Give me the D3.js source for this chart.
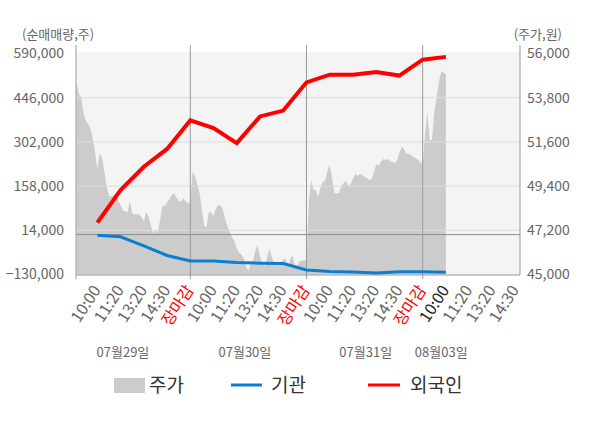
<!DOCTYPE html>
<html>
<head>
<meta charset="utf-8">
<script src="https://cdn.jsdelivr.net/npm/d3@7"></script>
<style>
  body { margin: 0; background: #fff; }
  text { font-family: "Noto Sans CJK KR", "Noto Sans", sans-serif; }
</style>
</head>
<body>
<div id="chart"></div>
<script>
// chart data
const days = ["07월29일", "07월30일", "07월31일", "08월03일"];
const tickLabels = ["10:00", "11:20", "13:20", "14:30", "장마감"];
const leftTicks = [-130000, 14000, 158000, 302000, 446000, 590000];
const rightTicks = [45000, 47200, 49400, 51600, 53800, 56000];

// net buying at each labelled time (shares)
const foreign = [39000, 145000, 221000, 279000, 372000, 347000, 298000, 385000, 404000,
  496000, 521000, 521000, 530000, 518000, 570000, 579000];
const institution = [-2000, -7000, -37000, -68000, -86000, -86000, -91000, -93000, -94000,
  -115000, -120000, -122000, -125000, -121000, -121000, -123000];

// intraday price, one value per 1/10 of a label step
const price0729 = [54600, 54000, 53850, 53050, 52650, 52500, 52250, 51800, 51100, 50200,
  51050, 50800, 50150, 49350, 48900, 48900, 48950, 49050, 48650, 48450,
  48200, 48150, 48100, 48650, 48050, 48000, 48000, 48000, 47850, 47650,
  48100, 47900, 47450, 47050, 47200, 47100, 47700, 48450, 48400, 48600,
  48750, 48950, 49050, 48850, 48650, 48650, 48800, 48650, 48550, 48600];
const price0730 = [50150, 49900, 49500, 49050, 48200, 47400, 47350, 48100, 48100, 47900,
  48300, 48450, 48450, 48250, 47750, 47400, 47100, 46850, 46650, 46300,
  46100, 46000, 45800, 45400, 45200, 45550, 45700, 46200, 46450, 45900,
  45600, 45400, 45800, 46300, 45900, 45550, 45450, 45550, 45600, 45750,
  45800, 45450, 45750, 45950, 45450, 45450, 45650, 45700, 45700, 45700];
const price0731 = [48550, 49700, 49200, 49200, 48850, 49300, 49600, 49650, 50150, 50450,
  49800, 49050, 49050, 49050, 49400, 49550, 49650, 49400, 49500, 49750,
  50000, 49900, 50000, 49950, 49850, 49800, 49700, 49750, 50050, 50500,
  50400, 50600, 50750, 50700, 50750, 50650, 50600, 50550, 50700, 51050,
  51350, 51250, 51000, 51000, 50950, 50850, 50800, 50700, 50600, 50450];
const price0803 = [51900, 53100, 51700, 51700, 53100, 53800, 54600, 55100, 55050, 54950];
const prices = [price0729, price0730, price0731, price0803];

const width = 600;
const height = 428;
const mLeft = 76, mRight = 520, mTop = 52, mBottom = 275;

const svg = d3.select("#chart").append("svg")
    .attr("width", width)
    .attr("height", height);

// x is measured in label steps: day d, label j sits at 5*d + j
const x = d3.scaleLinear().domain([0.08, 19.19]).range([mLeft, mRight]);
const yL = d3.scaleLinear().domain([-130000, 590000]).range([274.5, 53.5]);
const yR = d3.scaleLinear().domain([45000, 56000]).range([274.5, 53.5]);

svg.append("defs").append("clipPath").attr("id", "plot")
  .append("rect").attr("x", mLeft).attr("y", mTop).attr("width", mRight - mLeft).attr("height", mBottom - mTop);

svg.append("rect")
    .attr("x", mLeft).attr("y", mTop)
    .attr("width", mRight - mLeft).attr("height", mBottom - mTop)
    .attr("fill", "#f4f4f4");

// price area
const pricePts = [];
prices.forEach((arr, d) => arr.forEach((v, k) => pricePts.push({ pos: 5 * d + 0.1 * (k + 1), v })));
const area = d3.area()
    .x(p => x(p.pos))
    .y0(yR(45000))
    .y1(p => yR(p.v));
svg.append("path")
    .datum(pricePts)
    .attr("clip-path", "url(#plot)")
    .attr("fill", "#cccccc")
    .attr("d", area);

// grid
svg.append("g")
  .selectAll("line")
  .data(leftTicks.slice(1, -1))
  .join("line")
    .attr("x1", mLeft).attr("x2", mRight)
    .attr("y1", d => yL(d)).attr("y2", d => yL(d))
    .attr("stroke", "#dcdcdc");

svg.append("line")
    .attr("x1", mLeft).attr("x2", mRight)
    .attr("y1", yL(0)).attr("y2", yL(0))
    .attr("stroke", "#8c8c8c");

// day separators
svg.append("g")
  .selectAll("line")
  .data([5, 10, 15])
  .join("line")
    .attr("x1", d => x(d)).attr("x2", d => x(d))
    .attr("y1", 45).attr("y2", mBottom)
    .attr("stroke", "#999");

// axes frame
svg.append("line").attr("x1", mLeft).attr("x2", mLeft).attr("y1", 45).attr("y2", mBottom + 4).attr("stroke", "#999");
svg.append("line").attr("x1", mRight).attr("x2", mRight).attr("y1", 45).attr("y2", mBottom).attr("stroke", "#999");
svg.append("line").attr("x1", mLeft).attr("x2", mRight).attr("y1", mBottom).attr("y2", mBottom).attr("stroke", "#999");
svg.append("g")
  .selectAll("line")
  .data([5, 10, 15])
  .join("line")
    .attr("x1", d => x(d)).attr("x2", d => x(d))
    .attr("y1", mBottom).attr("y2", mBottom + 4)
    .attr("stroke", "#999");

// lines
const posOf = i => i + 1;
const line = d3.line().x((v, i) => x(posOf(i))).y(v => yL(v));
svg.append("path")
    .datum(institution)
    .attr("fill", "none")
    .attr("stroke", "#0b7fcf")
    .attr("stroke-width", 3)
    .attr("d", line);
svg.append("path")
    .datum(foreign)
    .attr("fill", "none")
    .attr("stroke", "#ff0000")
    .attr("stroke-width", 4)
    .attr("d", line);

// y labels
svg.append("g")
  .selectAll("text")
  .data(leftTicks)
  .join("text")
    .attr("x", 64).attr("y", d => yL(d))
    .attr("dy", "0.35em")
    .attr("text-anchor", "end")
    .attr("font-size", 14)
    .attr("fill", "#666")
    .text(d3.format(","));
svg.append("g")
  .selectAll("text")
  .data(rightTicks)
  .join("text")
    .attr("x", 527).attr("y", d => yR(d))
    .attr("dy", "0.35em")
    .attr("font-size", 14)
    .attr("fill", "#666")
    .text(d3.format(","));

svg.append("text").attr("x", 22).attr("y", 34).attr("dy", "0.35em")
    .attr("font-size", 13).attr("fill", "#666").text("(순매매량,주)");
svg.append("text").attr("x", 562).attr("y", 34).attr("dy", "0.35em").attr("text-anchor", "end")
    .attr("font-size", 13).attr("fill", "#666").text("(주가,원)");

// x labels
const xTicks = [];
days.forEach((day, d) => tickLabels.forEach((t, j) => {
  if (5 * d + j + 1 <= 19) xTicks.push({ pos: 5 * d + j + 1, t, d });
}));
svg.append("g")
  .selectAll("text")
  .data(xTicks)
  .join("text")
    .attr("transform", p => `translate(${x(p.pos) + 4},${mBottom + 15}) rotate(-57)`)
    .attr("text-anchor", "end")
    .attr("font-size", 16)
    .attr("fill", p => p.t === "장마감" ? "#ff0000" : (p.pos === 16 ? "#222" : "#666"))
    .text(p => p.t);

const dateAt = [2.1, 7.35, 12.55, 15.8];
svg.append("g")
  .selectAll("text")
  .data(days)
  .join("text")
    .attr("x", (d, i) => x(dateAt[i]))
    .attr("y", 352)
    .attr("dy", "0.35em")
    .attr("text-anchor", "middle")
    .attr("font-size", 13)
    .attr("fill", "#666")
    .text(d => d);

// legend
const lg = svg.append("g").attr("font-size", 19).attr("fill", "#333");
lg.append("rect").attr("x", 114).attr("y", 378).attr("width", 31).attr("height", 15).attr("fill", "#cccccc");
lg.append("text").attr("x", 149).attr("y", 385).attr("dy", "0.35em").text("주가");
lg.append("line").attr("x1", 231).attr("x2", 262).attr("y1", 385).attr("y2", 385).attr("stroke", "#0b7fcf").attr("stroke-width", 3);
lg.append("text").attr("x", 271).attr("y", 385).attr("dy", "0.35em").text("기관");
lg.append("line").attr("x1", 368).attr("x2", 400).attr("y1", 385).attr("y2", 385).attr("stroke", "#ff0000").attr("stroke-width", 3);
lg.append("text").attr("x", 410).attr("y", 385).attr("dy", "0.35em").text("외국인");
</script>
</body>
</html>
